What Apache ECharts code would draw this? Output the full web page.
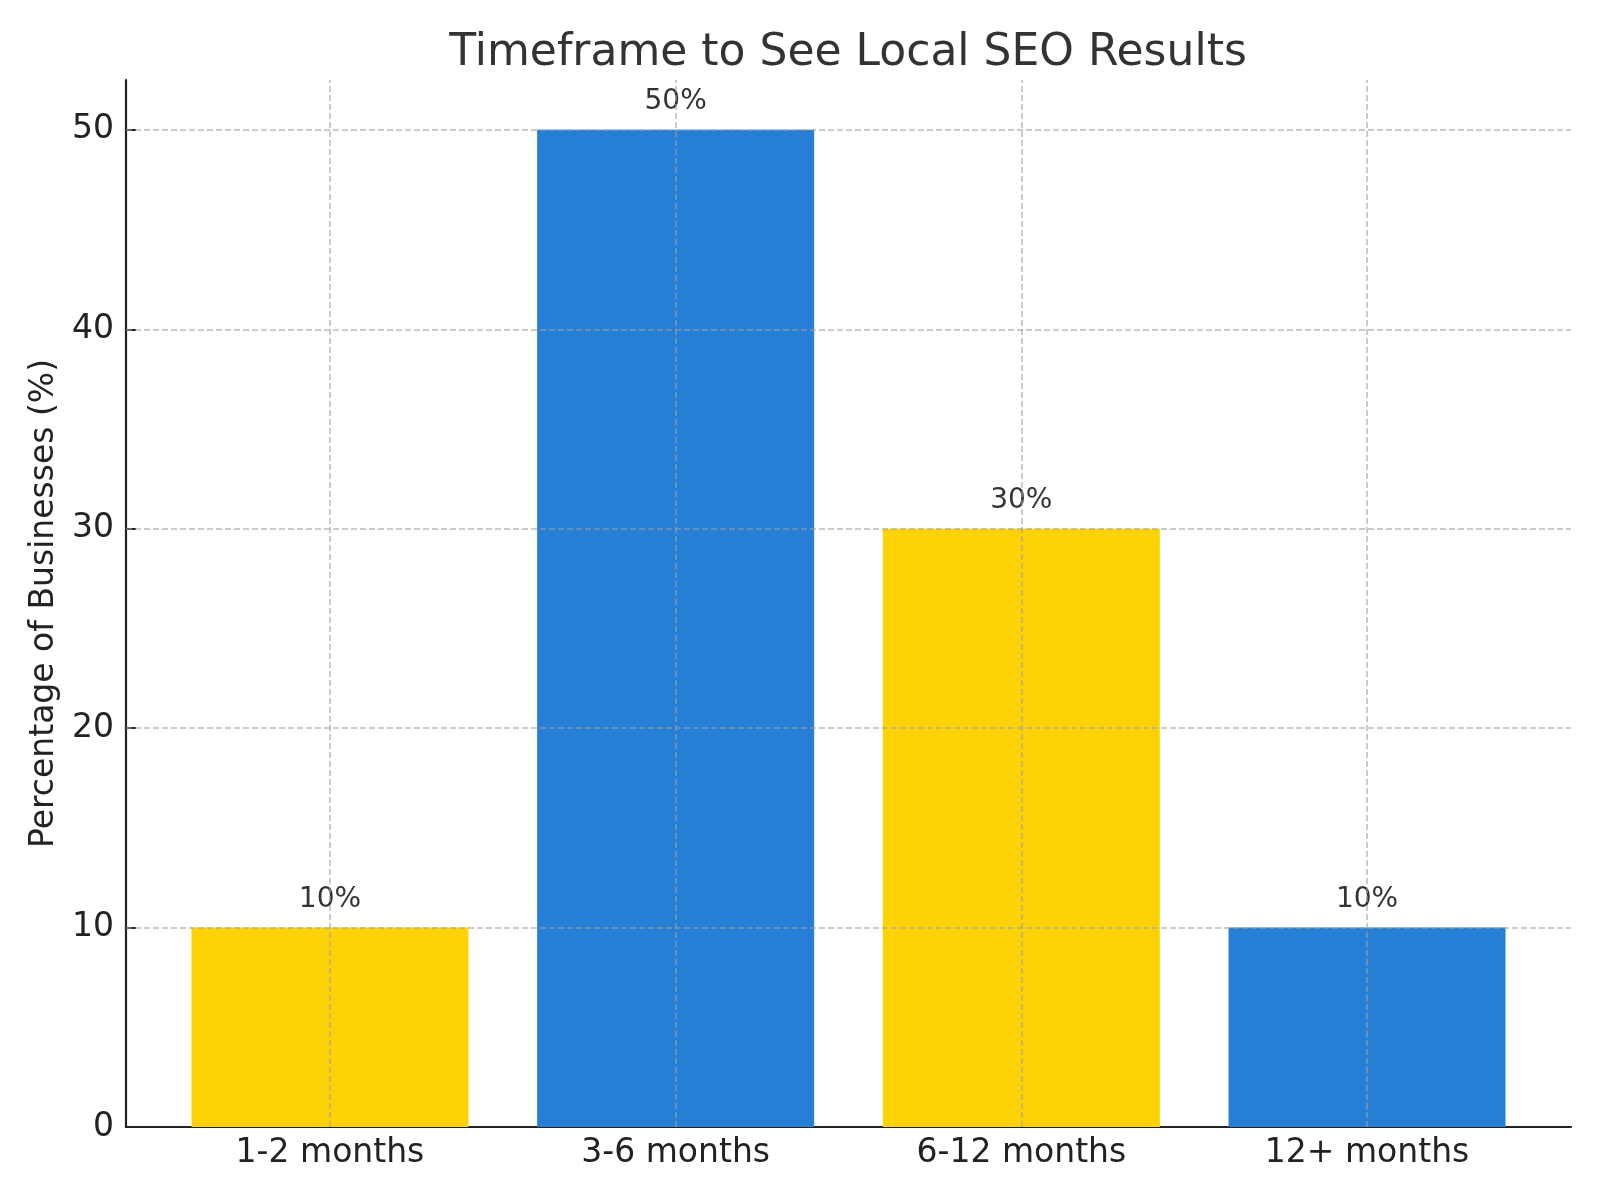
<!DOCTYPE html>
<html>
<head>
<meta charset="utf-8">
<script src="https://cdn.jsdelivr.net/npm/echarts@6/dist/echarts.min.js"></script>
<style>html,body{margin:0;padding:0;background:#fff}#chart{width:1600px;height:1200px}</style>
</head>
<body>
<div id="chart"></div>
<script>
const categories = ['1-2 months', '3-6 months', '6-12 months', '12+ months'];
const percentages = [10, 50, 30, 10];
const yTicks = [0, 10, 20, 30, 40, 50];
const barColors = ['#FDD308', '#277FD5'];

const FONT = 'DejaVu Sans';
const gridStyle = { color: 'rgba(160,160,160,0.55)', width: 2, type: [6, 3] };

const chart = echarts.init(document.getElementById('chart'), null, { renderer: 'canvas' });

const xIdx = categories.map((c, i) => i);

const option = {
  animation: false,
  backgroundColor: '#ffffff',
  title: {
    text: 'Timeframe to See Local SEO Results',
    left: 848,
    top: 32,
    padding: 0,
    textAlign: 'center',
    textStyle: { fontFamily: FONT, fontSize: 44, fontWeight: 'normal', color: '#333333' }
  },
  grid: { left: 126, right: 29, top: 80, bottom: 73, containLabel: false },
  xAxis: {
    type: 'value',
    min: -0.59,
    max: 3.59,
    axisLine: { show: true, onZero: false, lineStyle: { color: '#222222', width: 2.2 } },
    axisTick: { show: true, inside: true, length: 10, customValues: xIdx, lineStyle: { color: '#222222', width: 2 } },
    axisLabel: {
      customValues: xIdx,
      formatter: v => categories[Math.round(v)] || '',
      fontFamily: FONT, fontSize: 33, color: '#222222', margin: 10
    },
    splitLine: { show: false }
  },
  yAxis: {
    type: 'value',
    min: 0,
    max: 52.5,
    name: 'Percentage of Businesses (%)',
    nameLocation: 'middle',
    nameGap: 62,
    nameRotate: 90,
    nameTextStyle: { fontFamily: FONT, fontSize: 33, color: '#222222' },
    axisLine: { show: true, onZero: false, lineStyle: { color: '#222222', width: 2.2 } },
    axisTick: { show: true, inside: true, length: 10, customValues: yTicks, lineStyle: { color: '#222222', width: 2 } },
    axisLabel: {
      customValues: yTicks,
      fontFamily: FONT, fontSize: 33, color: '#222222', margin: 12
    },
    splitLine: { show: false }
  },
  series: [{
    type: 'bar',
    barWidth: 277,
    data: percentages.map((v, i) => [i, v]),
    itemStyle: { color: p => barColors[p.dataIndex % barColors.length] },
    label: {
      show: true,
      position: 'top',
      distance: 14,
      formatter: p => p.value[1] + '%',
      fontFamily: FONT, fontSize: 28, color: '#333333'
    },
    markLine: {
      silent: true,
      symbol: 'none',
      label: { show: false },
      lineStyle: gridStyle,
      data: yTicks.filter(t => t > 0).map(t => ({ yAxis: t }))
        .concat(xIdx.map(i => ({ xAxis: i })))
    }
  }]
};
chart.setOption(option);
</script>
</body>
</html>
